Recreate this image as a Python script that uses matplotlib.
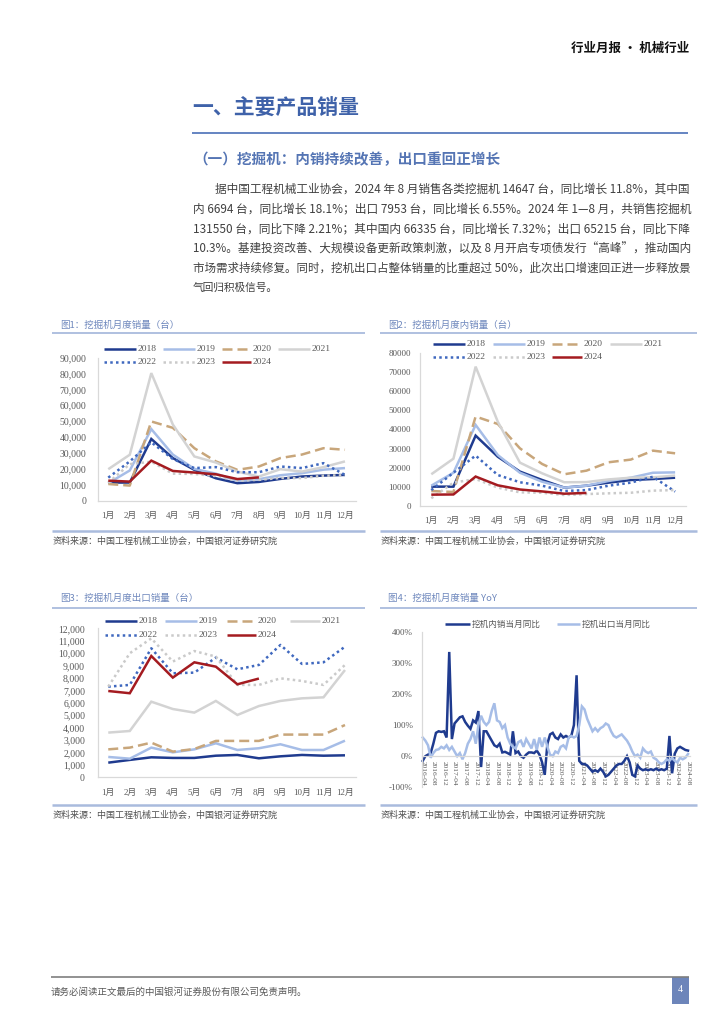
import matplotlib
matplotlib.use('Agg')
import matplotlib.pyplot as plt
from matplotlib.lines import Line2D
from matplotlib.patches import Rectangle
import numpy as np

plt.rcParams['font.family'] = ['Noto Sans CJK SC', 'DejaVu Sans']
plt.rcParams['axes.unicode_minus'] = False

# ---------------- data ----------------
months = ['1月', '2月', '3月', '4月', '5月', '6月', '7月', '8月', '9月', '10月', '11月', '12月']
years = ['2018', '2019', '2020', '2021', '2022', '2023', '2024']

# Fig 1: total monthly excavator sales (units)
total_2018 = [11400, 11400, 38800, 26800, 19400, 14100, 11000, 11800, 13700, 15200, 15800, 16200]
total_2019 = [11000, 19000, 45000, 29000, 20000, 17000, 12500, 13500, 16000, 17300, 19500, 20500]
total_2020 = [10500, 9500, 49800, 45800, 33000, 24700, 19400, 21500, 26800, 29000, 33000, 32000]
total_2021 = [19800, 28900, 80200, 47900, 27800, 24000, 18300, 15200, 19800, 18300, 21100, 24700]
total_2022 = [14500, 24700, 36700, 26200, 20500, 21100, 17900, 17900, 21500, 20500, 23600, 16200]
total_2023 = [11300, 23000, 24500, 17000, 16800, 15500, 12600, 13100, 14300, 14200, 15700, 16000]
total_2024 = [12600, 12000, 25200, 18700, 17700, 16600, 13600, 14647]

# Fig 2: domestic monthly sales (units)
dom_2018 = [10000, 10000, 36800, 25700, 17900, 13500, 9500, 10500, 12100, 13500, 14000, 14700]
dom_2019 = [10500, 17300, 42400, 26600, 17300, 12600, 9500, 10500, 13000, 14700, 17300, 17500]
dom_2020 = [7700, 7200, 46800, 42900, 30100, 21900, 16500, 18400, 22800, 24200, 28900, 27500]
dom_2021 = [16500, 24700, 73000, 44100, 22600, 17000, 12300, 12400, 13800, 14700, 14900, 15800]
dom_2022 = [8200, 17300, 26300, 16100, 12300, 10500, 7700, 8200, 10500, 12100, 15200, 7400]
dom_2023 = [3900, 12100, 14000, 9500, 7000, 6800, 5600, 6100, 6500, 6800, 7900, 8200]
dom_2024 = [5800, 5900, 15300, 10700, 8500, 7500, 6300, 6694]

# Fig 3: export monthly sales (units)
exp_2018 = [1180, 1400, 1610, 1560, 1560, 1740, 1800, 1530, 1690, 1800, 1740, 1770]
exp_2019 = [1640, 1500, 2390, 2010, 2250, 2740, 2200, 2340, 2660, 2200, 2200, 2950]
exp_2020 = [2250, 2390, 2790, 2070, 2280, 2930, 2930, 2930, 3440, 3440, 3440, 4210]
exp_2021 = [3600, 3730, 6090, 5500, 5210, 6150, 5020, 5740, 6150, 6360, 6440, 8640]
exp_2022 = [7300, 7440, 10390, 8380, 8430, 9640, 8700, 9050, 10660, 9130, 9260, 10520]
exp_2023 = [7300, 9990, 11190, 9320, 10170, 9720, 7440, 7440, 7970, 7760, 7440, 9050]
exp_2024 = [6950, 6770, 9770, 8030, 9260, 8910, 7490, 7953]

# Fig 4: monthly YoY (%), 2016-04 .. 2024-08
yoy_labels = ['2016-04', '2016-08', '2016-12', '2017-04', '2017-08', '2017-12',
              '2018-04', '2018-08', '2018-12', '2019-04', '2019-08', '2019-12',
              '2020-04', '2020-08', '2020-12', '2021-04', '2021-08', '2021-12',
              '2022-04', '2022-08', '2022-12', '2023-04', '2023-08', '2023-12',
              '2024-04', '2024-08']
yoy_domestic = [-15, 0, 5, 10, 40, 75, 80, 78, 80, 60,
                335, 55, 105, 115, 125, 128, 110, 98, 88, 115,
                108, 145, -35, 80, 80, 65, 50, 35, 30, 40,
                12, 14, 10, 5, 80, 10, 15, 0, -5, 5,
                12, 12, 10, 18, 5, -20, -60, 40, 70, 75,
                60, 55, 70, 60, 65, 60, 65, 100, 260, -15,
                -25, -25, -30, -40, -50, -45, -50, -40, -50, -65,
                -60, -50, -40, -30, -25, -25, -15, 0, -20, -60,
                -65, -30, -40, -45, -42, -45, -42, -45, -40, -45,
                -42, -45, -40, 65, -55, 8, 25, 30, 25, 20,
                18]
yoy_export = [60, 50, 35, -5, 10, 20, 22, 30, 25, 35,
              20, 30, 15, 0, 10, -10, 10, 40, 55, 80,
              40, 100, 130, 110, 100, 110, 145, 170, 115, 110,
              90, 100, 60, 40, 30, 25, 45, 50, 30, 55,
              40, 25, 55, 20, 60, 30, 60, 30, 5, 0,
              15, 10, 30, 35, 25, 60, 65, 60, 65, 100,
              160, 150, 120, 100, 80, 90, 80, 90, 95, 105,
              100, 80, 65, 60, 65, 70, 60, 50, 35, 15,
              0, 5, -5, 25, 15, 10, 15, -5, -10, -20,
              -25, -20, -10, -15, -5, -15, -20, -5, -10, -5,
              7]

paragraph = [
    '据中国工程机械工业协会，2024 年 8 月销售各类挖掘机 14647 台，同比增长 11.8%，其中国',
    '内 6694 台，同比增长 18.1%；出口 7953 台，同比增长 6.55%。2024 年 1—8 月，共销售挖掘机',
    '131550 台，同比下降 2.21%；其中国内 66335 台，同比增长 7.32%；出口 65215 台，同比下降',
    '10.3%。基建投资改善、大规模设备更新政策刺激，以及 8 月开启专项债发行“高峰”，推动国内',
    '市场需求持续修复。同时，挖机出口占整体销量的比重超过 50%，此次出口增速回正进一步释放景',
    '气回归积极信号。',
]

# ---------------- page setup ----------------
W, H = 724, 1024
fig = plt.figure(figsize=(W / 100, H / 100), dpi=100)
fig.patch.set_facecolor('white')


def fx(x):
    return x / W


def fy(y):
    return 1 - y / H


NUM = ['Liberation Serif', 'Noto Sans CJK SC']
CJK = ['Noto Sans CJK SC', 'DejaVu Sans']
GRAY = '#595959'
AXIS = '#d9d9d9'
FRAME = '#a9bbdd'
TITLE_C = '#6f88bd'
BLUE_T = '#3f62a9'

styles = {
    '2018': dict(color='#1f3b8f', lw=1.8, ls='-'),
    '2019': dict(color='#a6bde7', lw=1.8, ls='-'),
    '2020': dict(color='#c8a67b', lw=1.8, ls=(0, (4, 2))),
    '2021': dict(color='#d3d3d3', lw=1.8, ls='-'),
    '2022': dict(color='#3f68bf', lw=1.8, ls=(0, (1, 1.3))),
    '2023': dict(color='#cacaca', lw=1.8, ls=(0, (1, 1.3))),
    '2024': dict(color='#a41b20', lw=1.8, ls='-'),
}


def hline(x0, x1, y, color, lw):
    fig.add_artist(Line2D([fx(x0), fx(x1)], [fy(y), fy(y)], color=color, lw=lw,
                          solid_capstyle='butt'))


# header
fig.text(fx(689), fy(48), '行业月报 · 机械行业', ha='right', va='center', fontsize=9,
         fontweight='bold', color='#111111', family=CJK)

# section title
fig.text(fx(192), fy(108), '一、主要产品销量', ha='left', va='center', fontsize=15,
         fontweight='bold', color=BLUE_T, family=CJK)
hline(192, 688, 133, '#4a70b8', 1.2)
fig.text(fx(193), fy(159), '（一）挖掘机：内销持续改善，出口重回正增长', ha='left', va='center',
         fontsize=10.5, fontweight='bold', color='#5575b4', family=CJK)

# paragraph with justified lines
renderer = fig.canvas.get_renderer()
line_y = [189, 209, 229, 249, 268, 288]
for i, s in enumerate(paragraph):
    x0 = 215 if i == 0 else 193
    t = fig.text(fx(x0), fy(line_y[i]), s, ha='left', va='center', fontsize=7.7,
                 color='#404040', family=CJK)
    if i < len(paragraph) - 1:
        w = t.get_window_extent(renderer).width
        t.set_fontsize(7.7 * (688 - x0) / w)


# chart frames
def frame(x0, x1, title, ytitle, yline, ybottom):
    fig.text(fx(x0 + 8), fy(ytitle), title, ha='left', va='center', fontsize=6.8,
             color=TITLE_C, family=CJK)
    hline(x0, x1, yline, FRAME, 1.3)
    hline(x0, x1, ybottom, FRAME, 1.8)
    fig.text(fx(x0 + 1), fy(ybottom + 10), '资料来源：中国工程机械工业协会，中国银河证券研究院',
             ha='left', va='center', fontsize=6.5, color='#505050', family=CJK, style='italic')


frame(52, 365, '图1：挖掘机月度销量（台）', 325, 333, 531)
frame(380, 697, '图2：挖掘机月度内销量（台）', 325, 333, 531)
frame(52, 365, '图3：挖掘机月度出口销量（台）', 598, 608, 805)
frame(380, 697, '图4：挖掘机月度销量 YoY', 598, 608, 805)


def axes_px(left, top, right, bottom):
    return fig.add_axes([fx(left), fy(bottom), (right - left) / W, (bottom - top) / H])


def style_axes(ax, ylab_fs, ypad, xpad):
    for s in ['top', 'right']:
        ax.spines[s].set_visible(False)
    for s in ['left', 'bottom']:
        ax.spines[s].set_color(AXIS)
        ax.spines[s].set_linewidth(0.9)
    ax.tick_params(axis='y', length=0, pad=ypad, labelsize=ylab_fs, labelcolor=GRAY)
    ax.tick_params(axis='x', length=0, pad=xpad, labelcolor=GRAY)
    ax.patch.set_visible(False)


def monthly_chart(box, series, ymax, ystep, comma, ylab_fs, ypad):
    ax = axes_px(*box)
    for yr in years:
        vals = series[yr]
        ax.plot(np.arange(len(vals)), vals, **styles[yr], solid_capstyle='butt',
                dash_capstyle='butt', solid_joinstyle='miter', clip_on=False)
    ax.set_xlim(-0.5, 11.5)
    ax.set_ylim(0, ymax)
    ticks = list(range(0, ymax + 1, ystep))
    ax.set_yticks(ticks)
    ax.set_yticklabels([f'{t:,}' if comma else f'{t}' for t in ticks], family=NUM)
    ax.set_xticks(np.arange(12))
    ax.set_xticklabels(months, family=NUM, fontsize=6.4)
    style_axes(ax, ylab_fs, ypad, 8)
    return ax


def legend_item(x0, x1, y, text, st):
    fig.add_artist(Line2D([fx(x0), fx(x1)], [fy(y), fy(y)], solid_capstyle='butt',
                          dash_capstyle='butt', **st))
    fig.text(fx(x1 + 2), fy(y), text, ha='left', va='center', fontsize=6.8,
             color=GRAY, family=NUM)


def year_legend(cols, rows):
    k = 0
    for r, y in enumerate(rows):
        for c, (x0, x1) in enumerate(cols):
            if k < len(years):
                legend_item(x0, x1, y, years[k], styles[years[k]])
            k += 1
            if r == 0 and c == 3:
                break


# Fig 1
total = {'2018': total_2018, '2019': total_2019, '2020': total_2020, '2021': total_2021,
         '2022': total_2022, '2023': total_2023, '2024': total_2024}
monthly_chart((97.5, 357.5, 355.75, 500.7), total, 90000, 10000, True, 7, 8)
year_legend([(104, 136), (163, 195), (222, 251), (278, 310)], [349, 362])

# Fig 2
dom = {'2018': dom_2018, '2019': dom_2019, '2020': dom_2020, '2021': dom_2021,
       '2022': dom_2022, '2023': dom_2023, '2024': dom_2024}
monthly_chart((420.2, 353.3, 686.2, 505.7), dom, 80000, 10000, False, 6.5, 6.5)
year_legend([(433, 465), (493, 525), (552, 582), (610, 642)], [344, 357])

# Fig 3
exp = {'2018': exp_2018, '2019': exp_2019, '2020': exp_2020, '2021': exp_2021,
       '2022': exp_2022, '2023': exp_2023, '2024': exp_2024}
monthly_chart((97.5, 628.3, 355.75, 777.3), exp, 12000, 1000, True, 7, 9)
year_legend([(105, 137), (165, 197), (227, 256), (290, 320)], [621, 635])

# Fig 4
ax4 = axes_px(421.7, 631.7, 690.0, 787.3)
ax4.spines['bottom'].set_position(('data', 0))
xi = np.arange(len(yoy_domestic))
ax4.plot(xi, yoy_domestic, color='#1f3b8f', lw=1.8, solid_joinstyle='miter', clip_on=False)
ax4.plot(xi, yoy_export, color='#a6bde7', lw=1.8, solid_joinstyle='miter', clip_on=False)
ax4.set_xlim(-0.38, 100.75)
ax4.set_ylim(-100, 400)
ax4.set_yticks([-100, 0, 100, 200, 300, 400])
ax4.set_yticklabels([f'{v}%' for v in [-100, 0, 100, 200, 300, 400]], family=NUM)
ax4.set_xticks(np.arange(0, len(yoy_domestic), 4))
ax4.set_xticklabels(yoy_labels, family=NUM, fontsize=5.3, rotation=270)
style_axes(ax4, 6.5, 6.5, 3.5)
ax4.tick_params(axis='x', labelrotation=270)

fig.add_artist(Line2D([fx(445), fx(470)], [fy(624), fy(624)], color='#1f3b8f', lw=1.8,
                      solid_capstyle='butt'))
fig.text(fx(472), fy(624), '挖机内销当月同比', ha='left', va='center', fontsize=6.2,
         color=GRAY, family=CJK)
fig.add_artist(Line2D([fx(557), fx(580)], [fy(624), fy(624)], color='#a6bde7', lw=1.8,
                      solid_capstyle='butt'))
fig.text(fx(582), fy(624), '挖机出口当月同比', ha='left', va='center', fontsize=6.2,
         color=GRAY, family=CJK)

# footer
hline(51, 689, 977, '#7f7f7f', 1.2)
fig.text(fx(51), fy(992), '请务必阅读正文最后的中国银河证券股份有限公司免责声明。', ha='left',
         va='center', fontsize=6.8, color=GRAY, family=CJK)
fig.add_artist(Rectangle((fx(672), fy(1004)), 17 / W, 27 / H, transform=fig.transFigure,
                         facecolor='#6d85ba', edgecolor='none'))
fig.text(fx(680.5), fy(990), '4', ha='center', va='center', fontsize=7, color='white',
         family=NUM)

fig.savefig('out.png', dpi=100, facecolor='white')
